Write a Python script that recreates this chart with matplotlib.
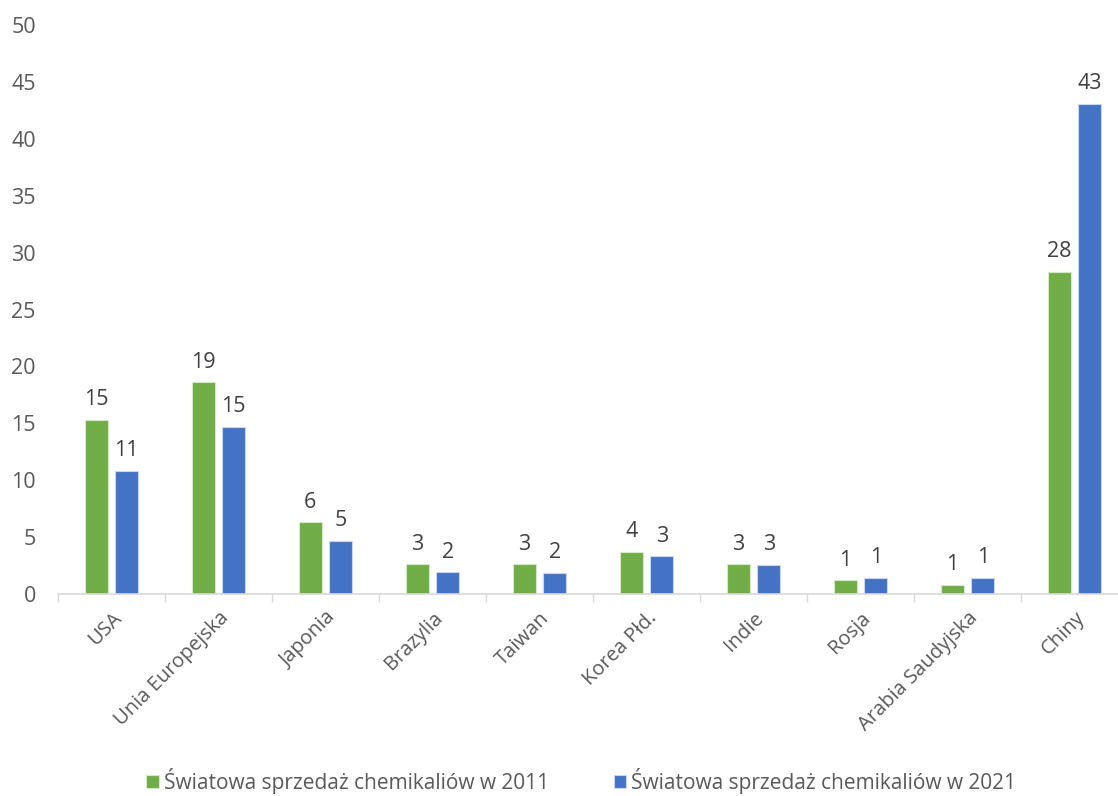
import numpy as np
import matplotlib.pyplot as plt

# dane
kraje = ["USA", "Unia Europejska", "Japonia", "Brazylia", "Taiwan",
         "Korea Płd.", "Indie", "Rosja", "Arabia Saudyjska", "Chiny"]
sprzedaz_2011 = [15.3, 18.6, 6.3, 2.6, 2.6, 3.7, 2.6, 1.2, 0.8, 28.3]
sprzedaz_2021 = [10.8, 14.7, 4.7, 1.9, 1.85, 3.3, 2.55, 1.4, 1.4, 43.05]
etykiety_serii = ["Światowa sprzedaż chemikaliów w 2011",
                  "Światowa sprzedaż chemikaliów w 2021"]

plt.rcParams['font.family'] = ['Open Sans', 'DejaVu Sans']

GREEN = '#70AD47'
BLUE = '#4472C4'
TEXT = '#595959'

fig = plt.figure(figsize=(11.18, 7.96), dpi=100)
ax = fig.add_axes([58 / 1118, 1 - 594 / 796, 1070 / 1118, 569 / 796])

x = np.arange(len(kraje))
w = 0.22
off = 0.142
b1 = ax.bar(x - off, sprzedaz_2011, w, color=GREEN, edgecolor='#d5e8c8', linewidth=0.8,
            label=etykiety_serii[0])
b2 = ax.bar(x + off, sprzedaz_2021, w, color=BLUE, edgecolor='#c9d6ee', linewidth=0.8,
            label=etykiety_serii[1])

for bars in (b1, b2):
    for r in bars:
        h = r.get_height()
        ax.annotate(f"{h:.0f}", (r.get_x() + r.get_width() / 2, h),
                    xytext=(0, 7), textcoords='offset points',
                    ha='center', va='bottom', fontsize=15.5, color='#404040')

ax.set_xlim(-0.5, 9.5)
ax.set_ylim(0, 50)
ax.set_yticks(range(0, 51, 5))
ax.tick_params(axis='y', length=0, pad=16, labelsize=15.5, labelcolor=TEXT)

# ticks między kategoriami
ax.set_xticks(np.arange(-0.5, 10, 1))
ax.set_xticklabels([])
ax.tick_params(axis='x', which='major', length=6, width=1, color='#d9d9d9', direction='out')
ax.set_xticks(x, minor=True)
ax.set_xticklabels(kraje, minor=True, rotation=45, ha='right', rotation_mode='anchor',
                   fontsize=14.5, color=TEXT)
ax.tick_params(axis='x', which='minor', length=0, pad=10)

for s in ['top', 'right', 'left']:
    ax.spines[s].set_visible(False)
ax.spines['bottom'].set_color('#d9d9d9')
ax.spines['bottom'].set_linewidth(1.2)

fig.legend(handles=[b1, b2], labels=etykiety_serii, loc='center',
           bbox_to_anchor=(0.52, 1 - 781 / 796), ncol=2, frameon=False,
           fontsize=15, labelcolor=TEXT, handlelength=0.6, handleheight=0.6,
           handletextpad=0.25, columnspacing=3.1)

plt.savefig('out.png', dpi=100)
